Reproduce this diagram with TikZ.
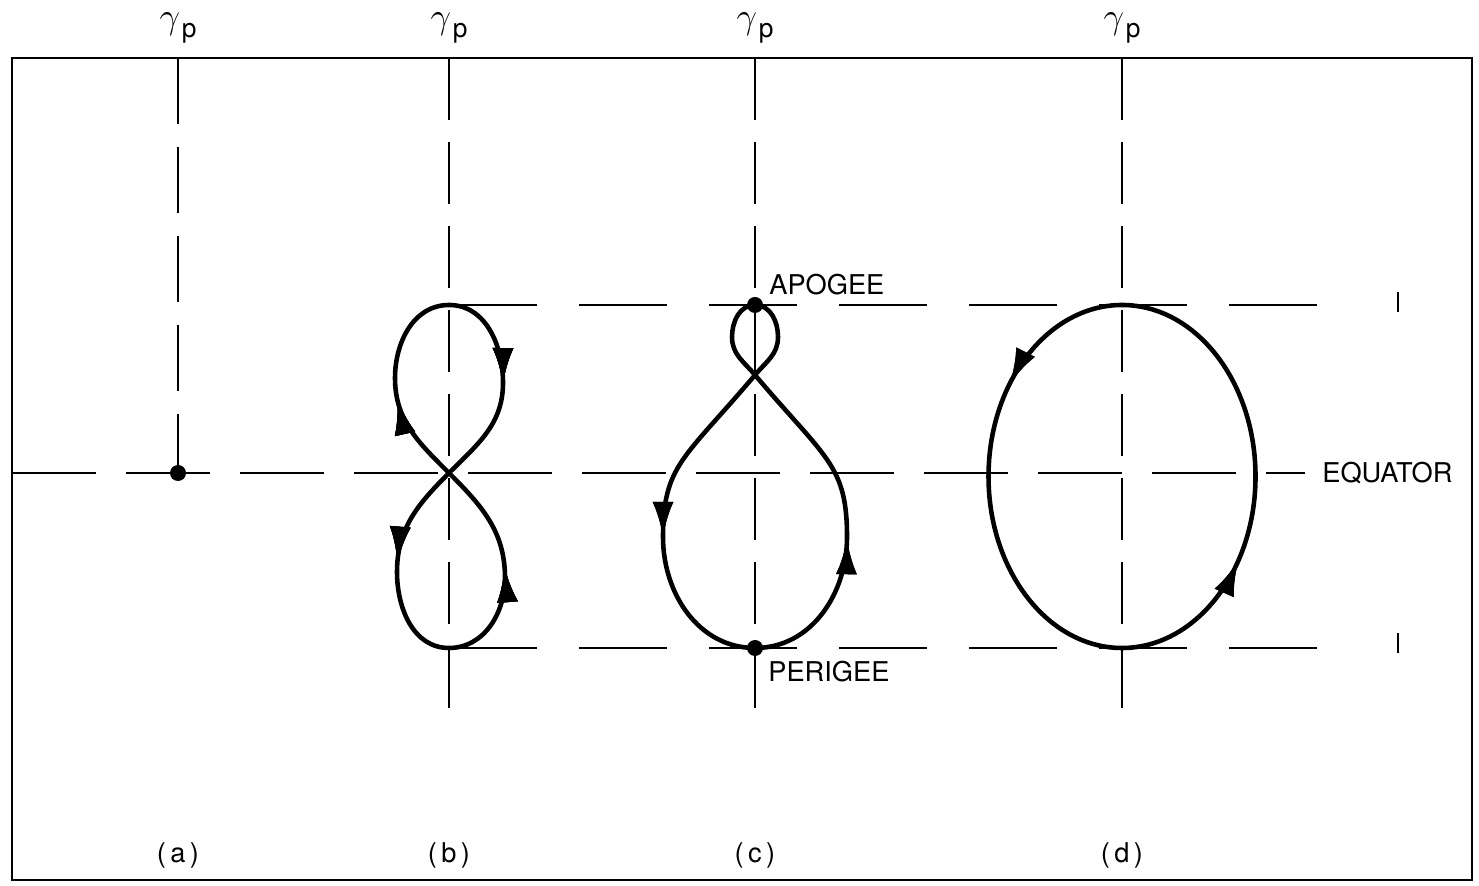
\documentclass[tikz,border=0pt]{standalone}
\usepackage{amsmath}
\usepackage{fontspec}
\setmainfont{TeX Gyre Heros}
\usetikzlibrary{arrows.meta,positioning,decorations.markings}
\tikzset{
  every node/.style={font=\fontsize{15.5}{18}\selectfont, inner sep=0pt},
  lbl/.style={anchor=west},
  gam/.style={font=\fontsize{22}{24}\selectfont},
  frame/.style={line width=1.3pt},
  guide/.style={line width=1.2pt, dash pattern=on 1.76cm off 0.84cm},
  equator/.style={line width=1.2pt, dash pattern=on 1.68cm off 0.6cm},
  meridian/.style={line width=1.2pt, dash pattern=on 1.24cm off 0.44cm},
  orbit/.style={line width=2.6pt, line join=round},
  dot/.style={circle, fill, minimum size=0.32cm, inner sep=0pt},
  flow/.style={postaction={decorate}, decoration={markings,
      mark=at position #1 with {\arrow{Latex[length=20pt,width=12pt]}}}},
}

\begin{document}
\begin{tikzpicture}[x=0.02cm, y=0.02cm]
  \useasboundingbox (0,0) rectangle (1479,885);
  \draw[frame] (12,5) rectangle (1472,827);

  % ---- reference lines ------------------------------------------------
  \draw[equator] (12,412) -- (1305,412);
  \draw[guide] (449,580) -- (1320,580);
  \draw[guide] (449,237) -- (1320,237);
  \draw[frame] (1398,573) -- (1398,593);
  \draw[frame] (1398,232) -- (1398,252);
  \draw[meridian, dash pattern=on 1.32cm off 0.46cm] (178,827) -- (178,412);
  \foreach \x/\e in {449/165,755/157,1122/165}
    \draw[meridian] (\x,827) -- (\x,\e);

  % ---- labels ---------------------------------------------------------
  \foreach \n/\x in {a/178,b/449,c/755,d/1122} {
    \node[gam] (gam\n) at (\x,857) {$\gamma$\kern1pt\raisebox{-5pt}{\fontsize{15}{15}\selectfont p}};
    \node (cap\n) at (\x,30) {(\hspace{2.5pt}\n\hspace{2.5pt})};
  }
  \node[lbl] (eqlbl) at (1322,412) {EQUATOR};

  % ---- (b) figure eight -----------------------------------------------
  \coordinate (bx) at (449,412);
  \draw[orbit, flow=0.105, flow=0.368, flow=0.614, flow=0.871]
    (bx) to[out=135,in=270] (395,507) to[out=90,in=180] (449,580)
    to[out=0,in=90] (503,502) to[out=270,in=45] (bx)
    to[out=225,in=90] (397,313) to[out=270,in=180] (449,237)
    to[out=0,in=270] (505,307) to[out=90,in=315] (bx);

  % ---- (c) loop with apogee and perigee -------------------------------
  \coordinate (cx) at (755,510);
  \draw[orbit, flow=0.42, flow=0.78]
    (cx) to[out=130,in=270] (732,548) to[out=90,in=180] (755,580)
    to[out=0,in=90] (778,548) to[out=270,in=50] (cx)
    .. controls (684,426) and (663,420) .. (663,348)
    to[out=270,in=180] (755,237) to[out=0,in=270] (847,348)
    .. controls (847,420) and (826,426) .. (cx);
  \node[dot] (apogee) at (755,580) {};
  \node[dot] (perigee) at (755,237) {};
  \node[lbl] (apolbl) at (769,600) {APOGEE};
  \node[lbl] (perlbl) at (768,213) {PERIGEE};

  % ---- (d) ellipse ----------------------------------------------------
  \draw[orbit, flow=0.15, flow=0.66]
    (1122,580) arc[start angle=90, end angle=450, x radius=133.5, y radius=171.5];

  % ---- (a) point on the equator ---------------------------------------
  \node[dot] (sat) at (178,412) {};
\end{tikzpicture}
\end{document}
